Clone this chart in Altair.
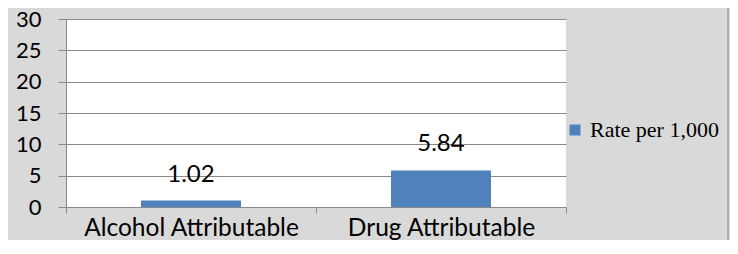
import altair as alt
import pandas as pd

categories = ["Alcohol Attributable", "Drug Attributable"]
values = [1.02, 5.84]
series_name = "Rate per 1,000"
y_ticks = [0, 5, 10, 15, 20, 25, 30]

df = pd.DataFrame({"category": categories, "value": values, "series": [series_name] * len(categories)})

AX = "Lato"
GRAY = "#898989"

x_enc = alt.X("category:N", sort=categories, title=None,
              scale=alt.Scale(paddingInner=0, paddingOuter=0),
              axis=alt.Axis(labelAngle=0, tickBand="extent", tickSize=6, tickColor=GRAY,
                            domainColor=GRAY, labelFont=AX, labelFontSize=24.5, labelColor="black",
                            labelBaseline="alphabetic", labelPadding=22, labelLimit=0, grid=False))
y_enc = alt.Y("value:Q", title=None,
              scale=alt.Scale(domain=[0, 30], nice=False),
              axis=alt.Axis(values=y_ticks, tickSize=8, tickColor=GRAY, domainColor=GRAY,
                            gridColor=GRAY, labelFont=AX, labelFontSize=22, labelColor="black",
                            labelPadding=17, labelOverlap=False, labelFlush=False))

base = alt.Chart(df)

bars = base.mark_bar(width=alt.RelativeBandSize(0.4), color="#4f81bd").encode(
    x=x_enc,
    y=y_enc,
    color=alt.Color("series:N", scale=alt.Scale(range=["#4f81bd"]),
                    legend=alt.Legend(title=None, orient="none", legendX=498, legendY=100,
                                      symbolType="square", symbolSize=121, symbolStrokeWidth=0,
                                      labelFont="Liberation Serif", labelFontSize=22,
                                      labelColor="black", labelOffset=4)),
)

labels = base.mark_text(baseline="alphabetic", dy=-19, font=AX, fontSize=24, color="black").encode(
    x=x_enc,
    y=y_enc,
    text=alt.Text("value:Q", format=".2f"),
)

border = alt.Chart(pd.DataFrame({"a": [0]})).mark_rule(color="#a0a0a0", strokeWidth=1.5).encode(
    x=alt.value(662), y=alt.value(-20), y2=alt.value(240)
)

chart = alt.layer(bars, labels, border).properties(
    width=500, height=188, background="#d9d9d9",
    padding={"left": 58, "top": 11, "right": 164, "bottom": 33},
    autosize=alt.AutoSizeParams(type="none"),
).configure_view(fill="white", stroke=None)

chart.save("out.html", embed_options={"renderer": "svg", "actions": False})
